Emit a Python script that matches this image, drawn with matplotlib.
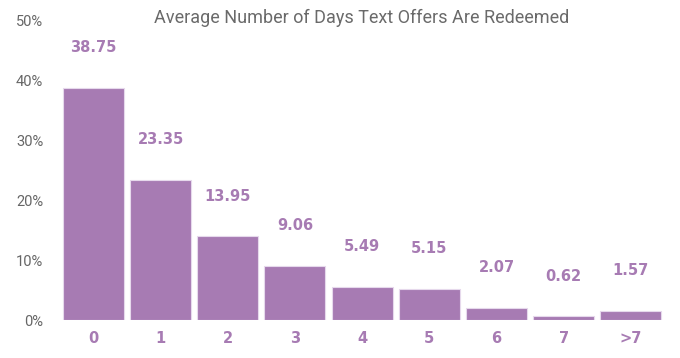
import matplotlib
matplotlib.use("Agg")
import matplotlib.pyplot as plt
from matplotlib.ticker import FuncFormatter

categories = ["0", "1", "2", "3", "4", "5", "6", "7", ">7"]
values = [38.75, 23.35, 13.95, 9.06, 5.49, 5.15, 2.07, 0.62, 1.57]
value_labels = ["38.75", "23.35", "13.95", "9.06", "5.49", "5.15", "2.07", "0.62", "1.57"]
yticks = [0, 10, 20, 30, 40, 50]
title = "Average Number of Days Text Offers Are Redeemed"

purple = "#a77bb3"
bold_font = ["DejaVu Sans"]
light_font = ["Roboto", "DejaVu Sans"]

fig = plt.figure(figsize=(6.8, 3.58), dpi=100)
ax = fig.add_axes([0.088, 0.106, 0.889, 0.838])

x = list(range(len(categories)))
ax.bar(x, values, width=0.91, color=purple, edgecolor="#e6d9ec", linewidth=0.8)

for xi, v, lab in zip(x, values, value_labels):
    ax.annotate(lab, (xi, v), xytext=(0, 29), textcoords="offset points",
                ha="center", va="center", color=purple, fontsize=10.5,
                fontfamily=bold_font, fontweight="bold")

ax.set_xlim(-0.5, len(categories) - 0.5)
ax.set_ylim(0, 50)
ax.set_yticks(yticks)
ax.yaxis.set_major_formatter(FuncFormatter(lambda v, p: f"{int(v)}%"))
ax.set_xticks(x)
ax.set_xticklabels(categories)
for t in ax.get_xticklabels():
    t.set_fontfamily(bold_font)
    t.set_fontweight("bold")
    t.set_color(purple)
    t.set_fontsize(10.5)
for t in ax.get_yticklabels():
    t.set_fontfamily(light_font)
    t.set_fontweight("normal")
    t.set_color("#666666")
    t.set_fontsize(10.5)
ax.tick_params(axis="y", length=0, pad=12)
ax.tick_params(axis="x", length=0, pad=8)
for s in ax.spines.values():
    s.set_visible(False)

fig.text(0.5325, 1 - 18 / 358, title, ha="center", va="center",
         fontsize=13, fontfamily=light_font, fontweight="normal", color="#6a6a6a")

fig.savefig("out.png", dpi=100, facecolor="white")
